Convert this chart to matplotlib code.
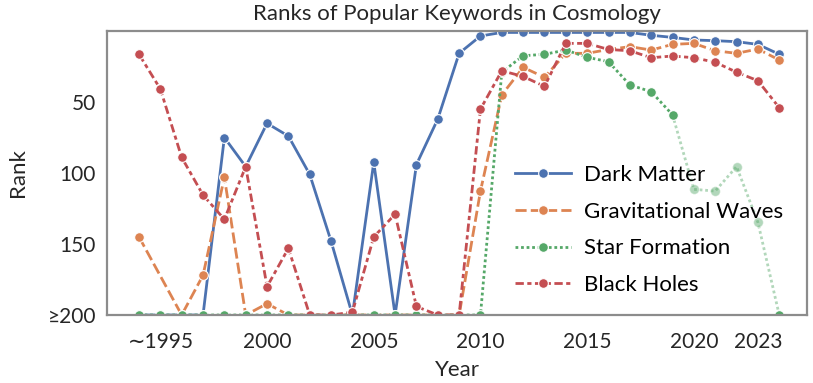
import numpy as np
import matplotlib
matplotlib.use("Agg")
import matplotlib.pyplot as plt

plt.rcParams['font.family'] = ['Lato', 'DejaVu Sans']

# -- Data (rank per year, 200 means ">=200", nan = no entry)
years = np.arange(1994, 2025)
dark_matter = [200, 200, 200, 200, 75, 95.5, 65, 74, 101, 148, 200, 92.5, 200, 94, 62, 15.7,
               3.5, 1, 1, 1, 1, 1, 1, 1, 3, 4.5, 6.3, 6.8, 7.5, 9.4, 16.4]
grav_waves = [145, np.nan, 200, 172, 103, 200, 192, 200, 200, 200, 200, 200, 200, 200, 200, 200,
              112.7, 45, 25.6, 32.6, 15.7, 15.7, 13, 11, 13.4, 9.4, 8.7, 13.9, 15.7, 12.7, 20.4]
star_formation = [200, 200, 200, 200, 200, 200, 200, 200, 200, 200, 200, 200, 200, 200, 200, 200,
                  200, 29, 17.4, 16.4, 13.4, 18.5, 21.6, 38, 42.7, 59, 111.5, 112.7, 95.5, 134.7, 200]
black_holes = [16.4, 40.8, 89, 115.5, 132.6, 95.5, 180, 153, 200, 200, 198, 145, 129, 194, 200, 200,
               55, 28, 32, 39, 8.7, 8.7, 13, 13.9, 18.8, 17.6, 18.8, 22, 29, 35, 54]
faded_from = 2019  # star formation drawn faded after this year

labels = ["Dark Matter", "Gravitational Waves", "Star Formation", "Black Holes"]
colors = ["#4C72B0", "#DD8452", "#55A868", "#C44E52"]
dashes = [(None), (4, 1.5), (1, 1), (3, 1.25, 1.5, 1.25)]
xtick_pos = [1995, 2000, 2005, 2010, 2015, 2020, 2023]
xtick_lab = ["\u223c1995", "2000", "2005", "2010", "2015", "2020", "2023"]
ytick_pos = [50, 100, 150, 200]
ytick_lab = ["50", "100", "150", "\u2265200"]

fig = plt.figure(figsize=(8.13, 3.83), dpi=100)
ax = fig.add_axes([0.1316, 0.1775, 0.861, 0.7415])

line_kw = dict(lw=2, marker='o', ms=7, mec='white', mew=0.8)

def draw(x, y, color, dash, label=None, alpha=1.0):
    y = np.asarray(y, dtype=float)
    ok = ~np.isnan(y)
    ln, = ax.plot(x[ok], y[ok], color=color, label=label, alpha=alpha, **line_kw)
    if dash is not None:
        ln.set_dashes(dash)
    return ln

series = [dark_matter, grav_waves, star_formation, black_holes]
for vals, lab, c, d in zip(series, labels, colors, dashes):
    if lab == "Star Formation":
        vals = np.asarray(vals, dtype=float)
        main = np.where(years <= faded_from, vals, np.nan)
        faded = np.where(years >= faded_from, vals, np.nan)
        # faded tail, markers only on the inner points
        ok = ~np.isnan(faded)
        ln, = ax.plot(years[ok], faded[ok], color=c, alpha=0.45, lw=2, zorder=1.5)
        ln.set_dashes(d)
        ax.plot(years[ok][1:-1], faded[ok][1:-1], ls='none', marker='o', ms=7,
                color=c, alpha=0.45, mec='white', mew=0.8, zorder=1.6)
        draw(years, main, c, d, label=lab)
        ax.plot(years[-1:], vals[-1:], ls='none', marker='o', ms=7, color=c,
                mec='white', mew=0.8)
    else:
        draw(years, vals, c, d, label=lab)

ax.set_xlim(1992.5, 2025.3)
ax.set_ylim(200, 0)
ax.set_xticks(xtick_pos)
ax.set_xticklabels(xtick_lab)
ax.set_yticks(ytick_pos)
ax.set_yticklabels(ytick_lab)
ax.tick_params(axis='both', length=0, labelsize=15, colors='#262626')
ax.tick_params(axis='x', pad=12)
ax.tick_params(axis='y', pad=8)
for sp in ax.spines.values():
    sp.set_color('#8c8c8c')
    sp.set_linewidth(1.6)

ax.set_xlabel("Year", fontsize=16, color='#262626', labelpad=6)
ax.set_ylabel("Rank", fontsize=16, color='#262626', labelpad=14)
ax.set_title("Ranks of Popular Keywords in Cosmology", fontsize=16, color='#262626', pad=8)

ax.legend(loc='lower right', bbox_to_anchor=(0.995, 0.0), frameon=False, fontsize=16,
          handlelength=2.5, labelspacing=0.75, handletextpad=0.6)

fig.savefig("out.png", dpi=100)
